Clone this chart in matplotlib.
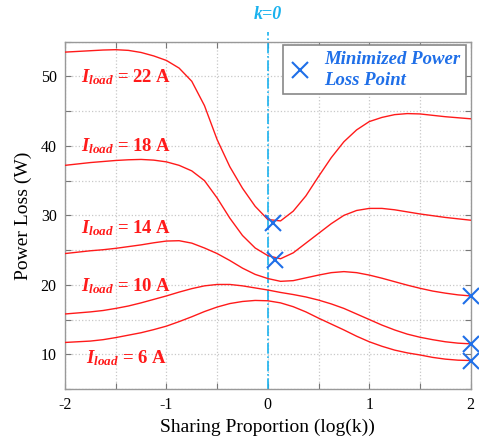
import matplotlib
matplotlib.use("Agg")
import matplotlib.pyplot as plt
from matplotlib.lines import Line2D
from matplotlib.transforms import blended_transform_factory

plt.rcParams['font.family'] = ['Liberation Serif', 'DejaVu Serif']
plt.rcParams['mathtext.fontset'] = 'custom'
plt.rcParams['mathtext.rm'] = 'Liberation Serif'
plt.rcParams['mathtext.it'] = 'Liberation Serif:italic'
plt.rcParams['mathtext.bf'] = 'Liberation Serif:bold'
plt.rcParams['mathtext.bfit'] = 'Liberation Serif:italic:bold'

# ---- data ----
log_k = [-2.0, -1.875, -1.75, -1.625, -1.5, -1.375, -1.25, -1.125, -1.0,
         -0.875, -0.75, -0.625, -0.5, -0.375, -0.25, -0.125, 0.0,
         0.125, 0.25, 0.375, 0.5, 0.625, 0.75, 0.875, 1.0,
         1.125, 1.25, 1.375, 1.5, 1.625, 1.75, 1.875, 2.0]

loss_22A = [53.5, 53.6, 53.7, 53.8, 53.85, 53.75, 53.45, 52.95, 52.3,
            51.2, 49.3, 45.8, 40.9, 37.0, 33.9, 31.3, 29.4,
            29.2, 30.6, 32.8, 35.6, 38.3, 40.6, 42.3, 43.5,
            44.1, 44.5, 44.65, 44.6, 44.4, 44.2, 44.05, 43.9]

loss_18A = [37.2, 37.4, 37.6, 37.75, 37.9, 38.0, 38.05, 37.95, 37.7,
            37.2, 36.4, 35.0, 32.5, 29.6, 27.1, 25.3, 24.2,
            23.75, 24.6, 26.0, 27.4, 28.8, 30.0, 30.7, 31.0,
            31.0, 30.8, 30.5, 30.2, 29.95, 29.7, 29.5, 29.3]

loss_14A = [24.5, 24.7, 24.9, 25.05, 25.25, 25.5, 25.75, 26.05, 26.3,
            26.35, 26.0, 25.3, 24.5, 23.5, 22.4, 21.5, 20.9,
            20.5, 20.6, 21.0, 21.4, 21.75, 21.9, 21.75, 21.4,
            20.95, 20.45, 19.95, 19.5, 19.1, 18.8, 18.55, 18.4]

loss_10A = [15.8, 15.95, 16.1, 16.3, 16.6, 16.95, 17.4, 17.9, 18.4,
            18.95, 19.45, 19.85, 20.05, 20.05, 19.85, 19.55, 19.25,
            18.9, 18.6, 18.25, 17.8, 17.25, 16.6, 15.8, 15.0,
            14.2, 13.5, 12.9, 12.45, 12.1, 11.8, 11.6, 11.5]

loss_6A = [11.7, 11.8, 11.9, 12.1, 12.4, 12.75, 13.1, 13.55, 14.05,
           14.7, 15.4, 16.15, 16.8, 17.3, 17.6, 17.75, 17.7,
           17.4, 16.85, 16.1, 15.2, 14.35, 13.5, 12.6, 11.8,
           11.15, 10.6, 10.2, 9.9, 9.55, 9.3, 9.15, 9.1]

curves = [loss_22A, loss_18A, loss_14A, loss_10A, loss_6A]
load_labels = ['22', '18', '14', '10', '6']
label_x = [-1.84, -1.84, -1.84, -1.84, -1.79]
label_y = [49.9, 39.9, 28.1, 19.8, 9.4]

min_x = [0.055, 0.07, 2.0, 2.0, 2.0]
min_y = [28.9, 23.6, 18.4, 11.5, 9.1]

x_ticks = [-2, -1.5, -1, -0.5, 0, 0.5, 1, 1.5, 2]
x_tick_labels = ['-2', '', '-1', '', '0', '', '1', '', '2']
y_ticks = [5, 10, 15, 20, 25, 30, 35, 40, 45, 50, 55]
y_tick_labels = ['', '10', '', '20', '', '30', '', '40', '', '50', '']

RED = '#ff1a1a'
BLUE = '#1f6fe8'
CYAN = '#1ab2ee'

fig = plt.figure(figsize=(4.79, 4.38), dpi=100)
ax = fig.add_axes([65 / 479, 1 - 389 / 438, (470.7 - 65) / 479, (389 - 41.7) / 438])

for ys in curves:
    ax.plot(log_k, ys, color=RED, lw=1.0, zorder=3)

ax.set_xlim(-2, 2)
ax.set_ylim(5, 55)
ax.set_xticks(x_ticks)
ax.set_xticklabels(x_tick_labels)
ax.set_yticks(y_ticks)
ax.set_yticklabels(y_tick_labels)
ax.grid(True, linestyle=':', color='#c8c8c8', lw=0.9)
ax.tick_params(direction='in', top=True, right=True, length=4, width=0.8,
               color='#777777', labelsize=11.5, pad=6)
for s in ax.spines.values():
    s.set_color('#999999')
    s.set_linewidth(1.0)

ax.set_xlabel('Sharing Proportion (log(k))', fontsize=14, labelpad=4)
ax.set_ylabel('Power Loss (W)', fontsize=14, labelpad=6)

# k = 0 line
ax.axvline(0, ymin=0, ymax=1.029, color=CYAN, lw=1.2, linestyle='-.', clip_on=False, zorder=2)
trans = blended_transform_factory(ax.transData, ax.transAxes)
ax.text(0, 1.077, 'k=0', transform=trans, ha='center', va='center', color=CYAN,
        fontsize=13, fontstyle='italic', fontweight='bold')

# load labels
for lx, ly, lab in zip(label_x, label_y, load_labels):
    ax.text(lx, ly, r'$\mathbfit{I}_{\mathbfit{load}}$' + ' = ' + lab + ' A',
            color=RED, fontsize=13.5, fontweight='bold', ha='left', va='center', zorder=4)

# minimized loss points
ax.plot(min_x, min_y, linestyle='none', marker='x', markersize=11.5, mew=1.5,
        color=BLUE, clip_on=False, zorder=5)

handle = Line2D([], [], linestyle='none', marker='x', markersize=11.5, mew=1.5, color=BLUE)
leg = ax.legend([handle], ['Minimized Power\nLoss Point'], loc='upper right',
                bbox_to_anchor=(0.988, 0.9905), borderaxespad=0, frameon=True, fancybox=False,
                framealpha=1, edgecolor='#888888', handlelength=1.2,
                handletextpad=0.7, borderpad=0.3, labelspacing=0.2,
                prop={'family': 'Liberation Serif', 'style': 'italic', 'weight': 'bold', 'size': 13.5})
leg.get_frame().set_linewidth(1.2)
for t in leg.get_texts():
    t.set_color(BLUE)
    t.set_linespacing(1.3)

fig.savefig('out.png', dpi=100)
